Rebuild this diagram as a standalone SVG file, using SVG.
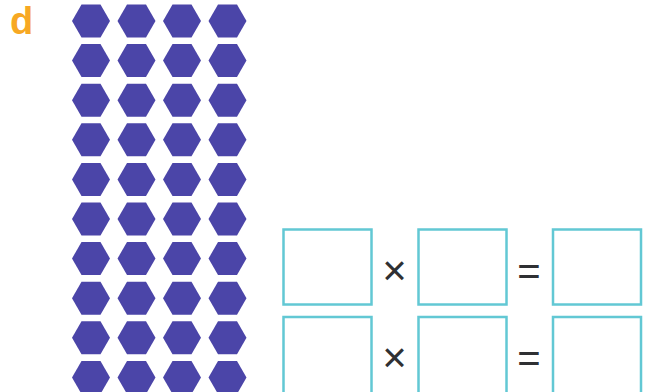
<svg xmlns="http://www.w3.org/2000/svg" width="648" height="392" viewBox="0 0 648 392">
<defs>
<style>
.hex{fill:#4B45A8;filter:url(#soft)}
.box{fill:none;stroke:#62C8D4;stroke-width:2.5}
.op{font-family:"Liberation Sans",Arial,sans-serif;fill:#2f3033;text-anchor:middle}
.lbl{font-family:"Liberation Sans",Arial,sans-serif;font-weight:bold;font-size:38px;fill:#F7A823}
</style>
<filter id="soft" x="-10%" y="-10%" width="120%" height="120%"><feGaussianBlur stdDeviation="0.7"/></filter>
<polygon id="h" points="-19,0 -9.5,-16.5 9.5,-16.5 19,0 9.5,16.5 -9.5,16.5"/>
</defs>
<rect width="648" height="392" fill="#fff"/>
<text class="lbl" x="10" y="34">d</text>
<g id="hexagons" class="hex">
<use href="#h" x="91" y="21"/><use href="#h" x="136.5" y="21"/><use href="#h" x="182" y="21"/><use href="#h" x="227.5" y="21"/>
<use href="#h" x="91" y="60.6"/><use href="#h" x="136.5" y="60.6"/><use href="#h" x="182" y="60.6"/><use href="#h" x="227.5" y="60.6"/>
<use href="#h" x="91" y="100.2"/><use href="#h" x="136.5" y="100.2"/><use href="#h" x="182" y="100.2"/><use href="#h" x="227.5" y="100.2"/>
<use href="#h" x="91" y="139.8"/><use href="#h" x="136.5" y="139.8"/><use href="#h" x="182" y="139.8"/><use href="#h" x="227.5" y="139.8"/>
<use href="#h" x="91" y="179.4"/><use href="#h" x="136.5" y="179.4"/><use href="#h" x="182" y="179.4"/><use href="#h" x="227.5" y="179.4"/>
<use href="#h" x="91" y="219"/><use href="#h" x="136.5" y="219"/><use href="#h" x="182" y="219"/><use href="#h" x="227.5" y="219"/>
<use href="#h" x="91" y="258.6"/><use href="#h" x="136.5" y="258.6"/><use href="#h" x="182" y="258.6"/><use href="#h" x="227.5" y="258.6"/>
<use href="#h" x="91" y="298.2"/><use href="#h" x="136.5" y="298.2"/><use href="#h" x="182" y="298.2"/><use href="#h" x="227.5" y="298.2"/>
<use href="#h" x="91" y="337.8"/><use href="#h" x="136.5" y="337.8"/><use href="#h" x="182" y="337.8"/><use href="#h" x="227.5" y="337.8"/>
<use href="#h" x="91" y="377.4"/><use href="#h" x="136.5" y="377.4"/><use href="#h" x="182" y="377.4"/><use href="#h" x="227.5" y="377.4"/>
</g>
<g id="row1">
<rect class="box" x="283.5" y="229.5" width="88" height="75"/>
<text class="op" x="394.5" y="284.5" font-size="42">×</text>
<rect class="box" x="418.5" y="229.5" width="88" height="75"/>
<text class="op" x="529" y="284.5" font-size="40">=</text>
<rect class="box" x="553" y="229.5" width="88" height="75"/>
</g>
<g id="row2">
<rect class="box" x="283.5" y="317" width="88" height="78"/>
<text class="op" x="394.5" y="372" font-size="42">×</text>
<rect class="box" x="418.5" y="317" width="88" height="78"/>
<text class="op" x="529" y="371.5" font-size="40">=</text>
<rect class="box" x="553" y="317" width="88" height="78"/>
</g>
</svg>
